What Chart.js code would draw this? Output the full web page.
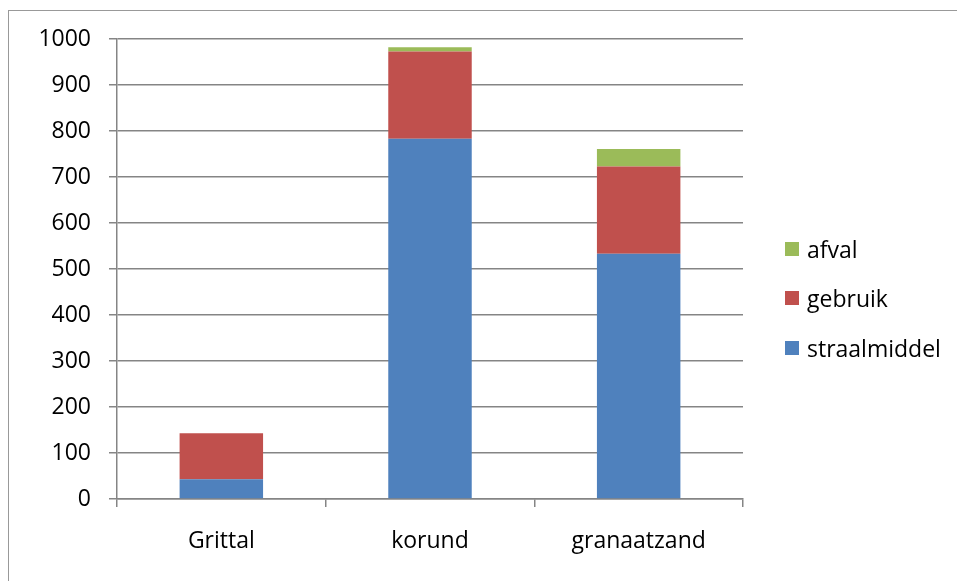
<!DOCTYPE html>
<html lang="nl">
<head>
  <meta charset="UTF-8" />
  <title>Straalmiddel</title>
  <script src="https://cdn.jsdelivr.net/npm/chart.js"></script>
  <style>
    body { margin: 0; background: #fff; font-family: "Open Sans", sans-serif; }
    #wrap { position: relative; width: 957px; height: 581px; overflow: hidden; }
    #frame { position: absolute; left: 8px; top: 10px; width: 1000px; height: 700px;
             border-left: 1px solid #999; border-top: 1px solid #999; }
    canvas { position: absolute; left: 0; top: 0; }
    #legend { position: absolute; left: 785px; top: 224px; font-size: 23px; color: #000; }
    .item { height: 49.5px; display: flex; align-items: center; }
    .box { width: 14px; height: 14px; margin-right: 8px; }
  </style>
</head>
<body>
  <div id="wrap">
    <div id="frame"></div>
    <canvas id="chart" width="957" height="581"></canvas>
    <div id="legend"></div>
  </div>
  <script>
    // data
    const categories = ['Grittal', 'korund', 'granaatzand'];
    const straalmiddel = [43, 783, 533];
    const gebruik = [100, 190, 190];
    const afval = [0, 9, 38];
    const yTicks = [0, 100, 200, 300, 400, 500, 600, 700, 800, 900, 1000];

    const datasets = [
      { label: 'straalmiddel', data: straalmiddel, backgroundColor: '#4F81BD' },
      { label: 'gebruik', data: gebruik, backgroundColor: '#C0504D' },
      { label: 'afval', data: afval, backgroundColor: '#9BBB59' }
    ];

    const gridColor = '#858585';
    const tickFont = { family: 'Open Sans', size: 23 };

    new Chart(document.getElementById('chart'), {
      type: 'bar',
      data: {
        labels: categories,
        datasets: datasets.map(d => ({ ...d, categoryPercentage: 1, barPercentage: 0.4 }))
      },
      options: {
        responsive: false,
        animation: false,
        layout: { padding: { left: 0, top: 39, right: 214, bottom: 0 } },
        plugins: { legend: { display: false }, tooltip: { enabled: false } },
        scales: {
          x: {
            stacked: true,
            grid: { offset: true, drawOnChartArea: false, drawTicks: true, tickLength: 8, color: gridColor, lineWidth: 1.5 },
            border: { color: gridColor, width: 1.5 },
            ticks: { color: '#000', padding: 21, font: tickFont },
            afterFit: s => { s.height = 82; }
          },
          y: {
            stacked: true,
            min: 0,
            max: 1000,
            afterBuildTicks: s => { s.ticks = yTicks.map(v => ({ value: v })); },
            grid: { color: gridColor, tickLength: 8, lineWidth: 1.5 },
            border: { color: gridColor, width: 1.5 },
            ticks: { color: '#000', padding: 18, font: tickFont, callback: v => String(v) },
            afterFit: s => { s.width = 117; }
          }
        }
      }
    });

    // legend, reversed like the original
    const legend = document.getElementById('legend');
    datasets.slice().reverse().forEach(d => {
      const item = document.createElement('div');
      item.className = 'item';
      item.innerHTML = `<span class="box" style="background:${d.backgroundColor}"></span>${d.label}`;
      legend.appendChild(item);
    });
  </script>
</body>
</html>
